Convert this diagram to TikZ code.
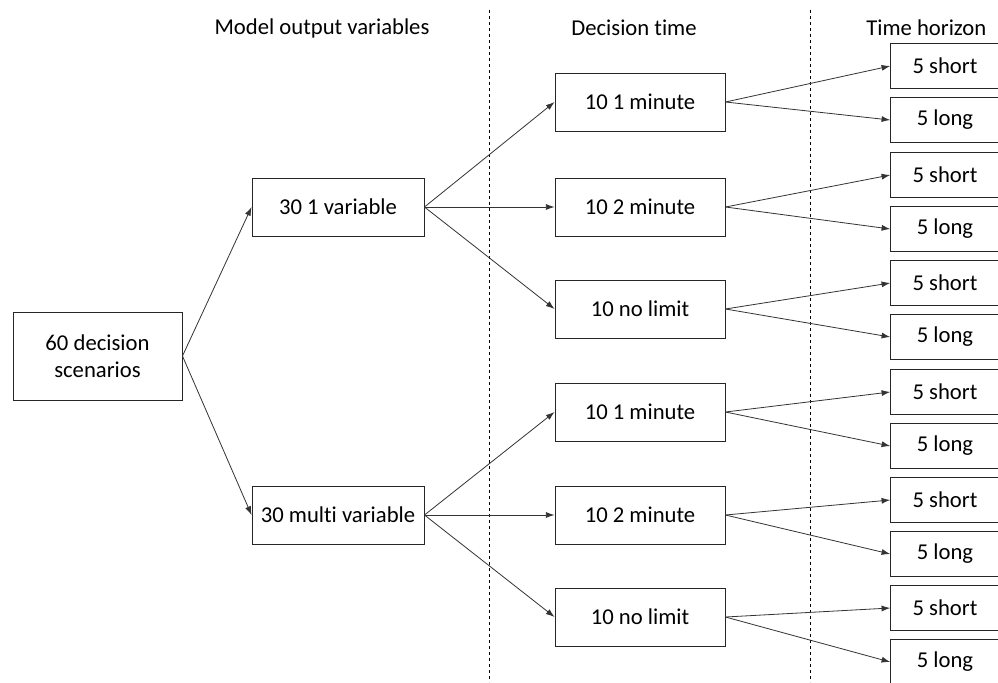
\documentclass[tikz,border=0pt]{standalone}
\usepackage{fontspec}
\setmainfont[Ligatures=NoCommon]{Carlito}
\usetikzlibrary{arrows.meta}
\begin{document}
\begin{tikzpicture}[x=0.75pt,y=-0.75pt,
  txt/.style={align=center,inner sep=0pt,font=\fontsize{17}{20}\selectfont},
  box/.style={txt,draw=black!85,line width=0.7pt,fill=white},
  rootbox/.style={box,minimum width=126.75pt,minimum height=66pt},
  midbox/.style={box,minimum width=129pt,minimum height=43.5pt},
  dtbox/.style={box,minimum width=127.5pt,minimum height=43.5pt},
  thbox/.style={txt,minimum width=81.75pt,minimum height=33pt},
  thline/.style={draw=black!85,line width=0.7pt},
  conn/.style={draw=black!80,line width=0.6pt,-{Latex[length=6.5pt,width=4.5pt]}},
  sep/.style={draw=black,line width=0.6pt,dash pattern=on 2.5pt off 2pt},
  hdr/.style={font=\fontsize{17}{20}\selectfont,inner sep=0pt}]
\clip (0,0) rectangle (998,682);
\fill[white] (0,0) rectangle (998,682);
% separators
\coordinate (s1t) at (489,10); \coordinate (s1b) at (489,682);
\coordinate (s2t) at (810,10); \coordinate (s2b) at (810,682);
\draw[sep] (s1t) -- (s1b);
\draw[sep] (s2t) -- (s2b);
% headers
\node[hdr] (h1) at (322,28) {Model output variables};
\node[hdr] (h2) at (634,28) {Decision time};
\node[hdr,anchor=west] (h3) at (866,28) {Time horizon};
% nodes
\node[rootbox] (r) at (97.5,356) {60 decision\\scenarios};
\node[midbox] (a) at (338,207) {30 1 variable};
\node[midbox] (b) at (338,515) {30 multi variable};
\node[dtbox] (a1) at (640,102) {10 1 minute};
\node[dtbox] (a2) at (640,207) {10 2 minute};
\node[dtbox] (a3) at (640,309) {10 no limit};
\node[dtbox] (b1) at (640,412) {10 1 minute};
\node[dtbox] (b2) at (640,515) {10 2 minute};
\node[dtbox] (b3) at (640,617) {10 no limit};
\foreach \n/\y/\t in {a1s/66/5 short, a1l/120/5 long, a2s/175/5 short, a2l/229/5 long,
  a3s/283/5 short, a3l/337/5 long, b1s/392/5 short, b1l/446/5 long,
  b2s/500/5 short, b2l/554/5 long, b3s/608/5 short, b3l/662/5 long}{
  \node[thbox] (\n) at (945,\y) {\t};
  \draw[thline] ([xshift=10]\n.east|-\n.north) -| (\n.south west) -- ([xshift=10]\n.east|-\n.south);
}
% connectors
\draw[conn] (r.east) -- (a.west);
\draw[conn] (r.east) -- (b.west);
\foreach \p in {a,b}{
  \foreach \i in {1,2,3}{
    \draw[conn] (\p.east) -- (\p\i.west);
    \draw[conn] (\p\i.east) -- (\p\i s.west);
    \draw[conn] (\p\i.east) -- (\p\i l.west);
  }
}
\end{tikzpicture}
\end{document}
